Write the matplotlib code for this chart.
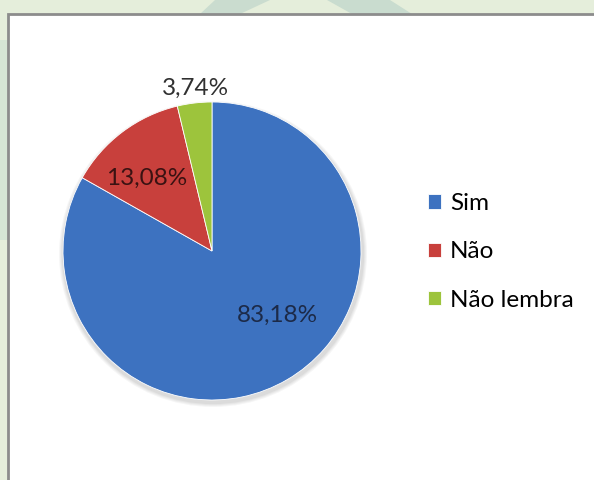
import matplotlib.pyplot as plt
from matplotlib.patches import Rectangle, Polygon, Ellipse

# Dados do gráfico
categorias = ["Sim", "Não", "Não lembra"]
valores = [83.18, 13.08, 3.74]
cores = ["#3d72c0", "#c8403c", "#9dc43c"]
cores_texto = ["#1c2a48", "#3a1212", "#303030"]

W, H = 594, 480
fig = plt.figure(figsize=(W / 100, H / 100), dpi=100)
fig.patch.set_facecolor("#e5eedb")

# fundo: faixas verdes do modelo e a caixa branca do gráfico
bg = fig.add_axes([0, 0, 1, 1])
bg.set_xlim(0, W)
bg.set_ylim(H, 0)
bg.axis("off")
bg.add_patch(Polygon([(215, 0), (270, 0), (240, 14), (200, 14)], color="#cadccf", lw=0))
bg.add_patch(Polygon([(327, 0), (390, 0), (412, 14), (352, 14)], color="#c9dccf", lw=0))
bg.add_patch(Polygon([(0, 40), (8, 40), (8, 240), (0, 240)], color="#d6e5d5", lw=0))
bg.add_patch(Rectangle((8, 14), W, H, facecolor="white", edgecolor="#8c8c8c", lw=2))

# sombra suave sob a pizza
for i, a in enumerate([0.035, 0.035, 0.035, 0.04]):
    bg.add_patch(Ellipse((213, 254), 300 + 8 - 2 * i, 298 + 8 - 2 * i, color="black", alpha=a, lw=0))

# pizza
cx, cy, r = 212, 251, 149
ax = fig.add_axes([(cx - r) / W, (H - cy - r) / H, 2 * r / W, 2 * r / H])
ax.set_aspect("equal")
wedges, textos, autotextos = ax.pie(
    valores, colors=cores, startangle=90, counterclock=False, radius=1,
    autopct=lambda p: f"{p:.2f}%".replace(".", ","), pctdistance=0.65,
    wedgeprops=dict(edgecolor="#ffffff", linewidth=0.6),
    textprops=dict(fontsize=17.5, family="Lato"))
ax.set_xlim(-1, 1)
ax.set_ylim(-1, 1)

# posições dos rótulos como no original
autotextos[0].set_position((0.44, -0.43))
autotextos[1].set_position((-0.44, 0.49))
autotextos[2].set_position((-0.11, 1.09))
for t, c in zip(autotextos, cores_texto):
    t.set_color(c)

leg = fig.legend(wedges, categorias, loc="center left",
                 bbox_to_anchor=(428 / W, 1 - 252 / H), frameon=False,
                 borderaxespad=0, borderpad=0,
                 handlelength=0.55, handleheight=0.55, handletextpad=0.35,
                 labelspacing=1.12, prop=dict(family="Lato", size=17.5))
for h in leg.legend_handles:
    h.set_edgecolor("#ffffff")

fig.savefig("out.png", dpi=100, facecolor=fig.get_facecolor())
